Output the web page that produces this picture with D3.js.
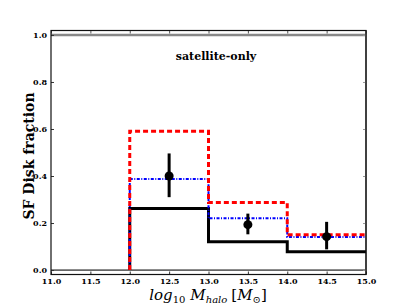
<!DOCTYPE html>
<html>
<head>
<meta charset="utf-8">
<script src="https://cdn.jsdelivr.net/npm/d3@7"></script>
<style>
  body { margin: 0; background: #fff; }
  svg { display: block; }
  .tick text { font-family: "DejaVu Serif", serif; font-weight: bold; font-size: 8px; }
</style>
</head>
<body>
<script>
// SVG VARIABLES
var width = 407, height = 305;
var plotLeft = 51, plotRight = 366, plotTop = 30.5, plotBottom = 274.5;

// DATA
var binEdges = [12, 13, 14, 15];
var blackVals = [0.262, 0.12, 0.078];
var redVals = [0.59, 0.287, 0.15];
var blueVals = [0.387, 0.22, 0.141];
var ptX = [12.5, 13.5, 14.5];
var ptY = [0.40, 0.193, 0.142];
var errLo = [0.31, 0.152, 0.088];
var errHi = [0.496, 0.24, 0.205];
var xTicks = [11.0, 11.5, 12.0, 12.5, 13.0, 13.5, 14.0, 14.5, 15.0];
var yTicks = [0.0, 0.2, 0.4, 0.6, 0.8, 1.0];

var svg = d3.select("body").append("svg")
  .attr("width", width)
  .attr("height", height);

var x = d3.scaleLinear().domain([11, 15]).range([plotLeft, plotRight]);
var y = d3.scaleLinear().domain([-0.019, 1.019]).range([plotBottom, plotTop]);

// gray reference lines
var g = svg.append("g");
g.append("line").attr("x1", x(11)).attr("x2", x(15)).attr("y1", y(1)).attr("y2", y(1))
  .attr("stroke", "#888").attr("stroke-width", 2.5);
g.append("line").attr("x1", x(11)).attr("x2", x(15)).attr("y1", y(0)).attr("y2", y(0))
  .attr("stroke", "#666").attr("stroke-width", 1.8);
g.append("line").attr("x1", x(15)).attr("x2", x(15)).attr("y1", plotTop).attr("y2", plotBottom)
  .attr("stroke", "#888").attr("stroke-width", 2);

// step lines
function stepPts(vals) {
  var pts = [[binEdges[0], 0]];
  vals.forEach(function(v, i) { pts.push([binEdges[i], v]); });
  pts.push([binEdges[binEdges.length - 1], vals[vals.length - 1]]);
  return pts;
}
var line = d3.line()
  .x(function(d) { return x(d[0]); })
  .y(function(d) { return y(d[1]); })
  .curve(d3.curveStepAfter);

svg.append("path").datum(stepPts(blackVals)).attr("d", line)
  .attr("fill", "none").attr("stroke", "#000").attr("stroke-width", 3);
svg.append("path").datum(stepPts(blueVals)).attr("d", line)
  .attr("fill", "none").attr("stroke", "#0000ff").attr("stroke-width", 2)
  .attr("stroke-dasharray", "3,1.5,1,1.5");
svg.append("path").datum(stepPts(redVals)).attr("d", line)
  .attr("fill", "none").attr("stroke", "#ff0000").attr("stroke-width", 3)
  .attr("stroke-dasharray", "5,3");

// error bars + points
svg.selectAll(".err").data(ptX).enter().append("line")
  .attr("x1", function(d) { return x(d); })
  .attr("x2", function(d) { return x(d); })
  .attr("y1", function(d, i) { return y(errLo[i]); })
  .attr("y2", function(d, i) { return y(errHi[i]); })
  .attr("stroke", "#000").attr("stroke-width", 3);
svg.selectAll(".pt").data(ptX).enter().append("circle")
  .attr("cx", function(d) { return x(d); })
  .attr("cy", function(d, i) { return y(ptY[i]); })
  .attr("r", 4.5).attr("fill", "#000");

// axes
var fmt = d3.format(".1f");
svg.append("g").attr("transform", "translate(0," + plotBottom + ")")
  .call(d3.axisBottom(x).tickValues(xTicks).tickFormat(fmt).tickSizeInner(-3).tickSizeOuter(0).tickPadding(4))
  .call(function(a) { a.select(".domain").remove(); a.selectAll("line").attr("stroke", "#333"); });
svg.append("g").attr("transform", "translate(0," + plotTop + ")")
  .call(d3.axisTop(x).tickValues(xTicks).tickFormat("").tickSizeInner(-3).tickSizeOuter(0))
  .call(function(a) { a.select(".domain").remove(); a.selectAll("line").attr("stroke", "#555"); });
svg.append("g").attr("transform", "translate(" + plotLeft + ",0)")
  .call(d3.axisLeft(y).tickValues(yTicks).tickFormat(fmt).tickSizeInner(-3).tickSizeOuter(0).tickPadding(4))
  .call(function(a) { a.select(".domain").remove(); a.selectAll("line").attr("stroke", "#333"); });
svg.append("g").attr("transform", "translate(" + plotRight + ",0)")
  .call(d3.axisRight(y).tickValues(yTicks).tickFormat("").tickSizeInner(-3).tickSizeOuter(0))
  .call(function(a) { a.select(".domain").remove(); a.selectAll("line").attr("stroke", "#999"); });

// frame
svg.append("rect").attr("x", plotLeft).attr("y", plotTop)
  .attr("width", plotRight - plotLeft).attr("height", plotBottom - plotTop)
  .attr("fill", "none").attr("stroke", "#111").attr("stroke-width", 1.2);

// text
svg.append("text").attr("x", 216).attr("y", 60).attr("text-anchor", "middle")
  .attr("font-family", "DejaVu Serif, serif").attr("font-weight", "bold").attr("font-size", 11)
  .text("satellite-only");

svg.append("text").attr("transform", "translate(34,156) rotate(-90)").attr("text-anchor", "middle")
  .attr("font-family", "DejaVu Serif, serif").attr("font-weight", "bold").attr("font-size", 14)
  .text("SF Disk fraction");

var xl = svg.append("text").attr("x", 208).attr("y", 300).attr("text-anchor", "middle")
  .attr("font-family", "DejaVu Serif, serif").attr("font-style", "italic").attr("font-size", 15);
xl.append("tspan").text("log");
xl.append("tspan").attr("font-size", 10).attr("dy", 3).attr("font-style", "normal").text("10");
xl.append("tspan").attr("dy", -3).attr("dx", 5).text("M");
xl.append("tspan").attr("font-size", 10).attr("dy", 3).text("halo");
xl.append("tspan").attr("dy", -3).attr("dx", 4).attr("font-style", "normal").text("[");
xl.append("tspan").text("M");
xl.append("tspan").attr("font-size", 10).attr("dy", 3).attr("font-style", "normal").text("\u2299");
xl.append("tspan").attr("dy", -3).attr("font-style", "normal").text("]");
</script>
</body>
</html>
